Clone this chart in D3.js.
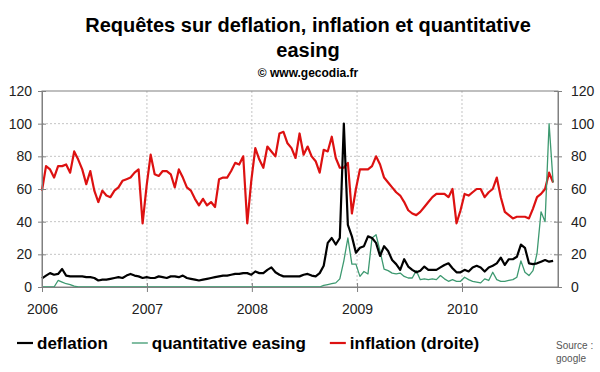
<!DOCTYPE html>
<html>
<head>
<meta charset="utf-8">
<script src="https://cdn.jsdelivr.net/npm/d3@7"></script>
<style>
  body { margin: 0; background: #fff; }
  svg { font-family: "Liberation Sans", Arial, sans-serif; display: block; }
</style>
</head>
<body>
<script>
// series, one point every two weeks from 1 jan 2006
var startDate = new Date(2006, 0, 1);
var stepDays = 14;

var deflation = [5.3, 7, 8.5, 7.5, 8, 11, 7, 6.5, 6.5, 6.5, 6.5, 6, 6, 5.5, 4, 4.5, 4.5, 5, 5.5, 6,
  5.5, 7, 8, 7, 6.5, 5.5, 6, 5.5, 5.5, 6.5, 6, 5.5, 6.5, 6.5, 6, 7, 5.5, 5, 4.5, 4,
  4.5, 5, 5.5, 6, 6.5, 7, 7, 7.5, 8, 8, 8.5, 8.5, 7.5, 9.5, 8.5, 8.5, 10.5, 12, 9, 7.5,
  6.5, 6.5, 6.5, 6.5, 6.5, 7.5, 8, 7, 6.5, 8.5, 13, 27, 30, 26, 30, 100, 38, 31, 21, 24,
  25, 31, 30, 27, 19, 25, 22, 16.5, 14, 10.5, 17, 12.5, 10.5, 9, 10, 12.5, 10.5, 10.5, 10.5, 12,
  13.5, 14.5, 11.5, 9, 9, 10.5, 9.5, 12, 13, 12, 9.5, 12, 13, 14.5, 18, 13.5, 17, 17, 18.5, 26,
  24, 14.5, 14, 14.5, 15.5, 16.5, 15.5, 16];

var quantEasing = [0, 0, 0, 0, 4, 3, 2, 1.5, 0.5, 0, 0, 0, 0, 0, 0, 0, 0, 0, 0, 0,
  0, 0, 0, 0, 0, 0, 0, 0, 0, 0, 0, 0, 0, 0, 0, 0, 0, 0, 0, 0,
  0, 0, 0, 0, 0, 0, 0, 0, 0, 0, 0, 0, 0, 0, 0, 0, 0, 0, 0, 0,
  0, 0, 0, 0, 0, 0, 0, 0, 0, 0, 1, 1.5, 2, 2.5, 5, 16, 30, 14, 14, 6.5,
  9.5, 8, 30, 32, 22, 11, 10, 8.5, 8, 8.5, 6.5, 5.5, 5.5, 10, 4.5, 5, 4.5, 5, 4.5, 7,
  5, 3.5, 4.5, 3.5, 3.5, 6, 4.5, 3.5, 3, 2.5, 5, 4, 9, 4.5, 3.5, 3.5, 4, 4.5, 6, 16,
  9, 7, 10, 20.5, 46, 40, 100, 64];

var inflation = [59, 74, 72, 67, 74, 74, 75, 70, 83, 78, 72, 63, 71, 59, 52, 59, 56, 55, 59, 61,
  65, 66, 67, 70, 72, 39, 62, 81, 69, 68, 71, 71, 69, 61, 72, 67, 61, 59, 54, 50,
  54, 50, 52, 49, 66, 67, 67, 71, 76, 75, 80, 39, 65, 85, 78, 73, 86, 83, 80, 94,
  95, 88, 85, 79, 94, 81, 86, 80, 77, 70, 84, 83, 92, 79, 73, 73, 76, 45, 60, 72,
  72, 72, 74, 80, 75, 67, 64, 61, 58, 56, 52, 47, 45, 44, 46, 49, 52, 55, 57, 57,
  57, 55, 60, 39, 47, 57, 56, 58, 60, 60, 55, 58, 60, 67, 55, 46, 44, 42, 43, 43,
  43, 42, 48, 55, 57, 60, 70, 64];

var yearTicks = [2006, 2007, 2008, 2009, 2010];
var valueTicks = [0, 20, 40, 60, 80, 100, 120];

var legendItems = [
  {name: "deflation", color: "#000000", width: 2.2},
  {name: "quantitative easing", color: "#3d9970", width: 1.3},
  {name: "inflation (droite)", color: "#dd1111", width: 2.2}
];

var w = 600;
var h = 372;
var plotLeft = 42, plotRight = 558, plotTop = 91, plotBottom = 287;

var svg = d3.select("body").append("svg")
  .attr("width", w)
  .attr("height", h);

// scales: both axes share 0-120
var xScale = d3.scaleTime()
  .domain([new Date(2006, 0, 1), new Date(2010, 11, 1)])
  .range([plotLeft, plotRight]);

var yLeft = d3.scaleLinear().domain([0, 120]).range([plotBottom, plotTop]);
var yRight = d3.scaleLinear().domain([0, 120]).range([plotBottom, plotTop]);

var dateOf = function(i) { return d3.timeDay.offset(startDate, i * stepDays); };

// title
svg.append("text")
  .attr("x", 308).attr("y", 32)
  .attr("text-anchor", "middle")
  .style("font-size", "20px").style("font-weight", "bold")
  .text("Requêtes sur deflation, inflation et quantitative");
svg.append("text")
  .attr("x", 308).attr("y", 57)
  .attr("text-anchor", "middle")
  .style("font-size", "20px").style("font-weight", "bold")
  .text("easing");
svg.append("text")
  .attr("x", 308).attr("y", 77)
  .attr("text-anchor", "middle")
  .style("font-size", "12px").style("font-weight", "bold")
  .text("© www.gecodia.fr");

// dashed grid
svg.append("g").selectAll("line")
  .data(valueTicks.filter(function(d) { return d > 0 && d < 120; }))
  .enter().append("line")
  .attr("x1", plotLeft).attr("x2", plotRight)
  .attr("y1", function(d) { return yLeft(d); })
  .attr("y2", function(d) { return yLeft(d); })
  .attr("stroke", "#c4c4c4").attr("stroke-dasharray", "2,2");

svg.append("g").selectAll("line")
  .data(yearTicks.slice(1))
  .enter().append("line")
  .attr("x1", function(d) { return xScale(new Date(d, 0, 1)); })
  .attr("x2", function(d) { return xScale(new Date(d, 0, 1)); })
  .attr("y1", plotTop).attr("y2", plotBottom)
  .attr("stroke", "#c4c4c4").attr("stroke-dasharray", "2,2");

// plot frame
svg.append("rect")
  .attr("x", plotLeft).attr("y", plotTop)
  .attr("width", plotRight - plotLeft).attr("height", plotBottom - plotTop)
  .attr("fill", "none").attr("stroke", "#808080");

// lines
var lineLeft = d3.line()
  .x(function(d, i) { return xScale(dateOf(i)); })
  .y(function(d) { return yLeft(d); });
var lineRight = d3.line()
  .x(function(d, i) { return xScale(dateOf(i)); })
  .y(function(d) { return yRight(d); });

svg.append("path").datum(inflation)
  .attr("d", lineRight).attr("fill", "none")
  .attr("stroke", legendItems[2].color).attr("stroke-width", legendItems[2].width)
  .attr("stroke-linejoin", "round");
svg.append("path").datum(quantEasing)
  .attr("d", lineLeft).attr("fill", "none")
  .attr("stroke", legendItems[1].color).attr("stroke-width", legendItems[1].width)
  .attr("stroke-linejoin", "round");
svg.append("path").datum(deflation)
  .attr("d", lineLeft).attr("fill", "none")
  .attr("stroke", legendItems[0].color).attr("stroke-width", legendItems[0].width)
  .attr("stroke-linejoin", "round");

// axes
function styleAxis(g) {
  g.select(".domain").attr("stroke", "#808080");
  g.selectAll(".tick line").attr("stroke", "#808080");
  g.selectAll(".tick text").attr("fill", "#222").style("font-size", "14px")
    .style("font-family", "'Liberation Sans', Arial, sans-serif");
}

var xAxis = svg.append("g")
  .attr("transform", "translate(0," + plotBottom + ")")
  .call(d3.axisBottom(xScale)
    .tickValues(yearTicks.map(function(d) { return new Date(d, 0, 1); }))
    .tickFormat(d3.timeFormat("%Y"))
    .tickSizeInner(5).tickSizeOuter(0))
  .call(styleAxis);
xAxis.selectAll(".tick line").attr("y1", -4);
xAxis.selectAll(".tick text").attr("y", 22).attr("dy", "0.35em");

var leftAxis = svg.append("g")
  .attr("transform", "translate(" + plotLeft + ",0)")
  .call(d3.axisLeft(yLeft).tickValues(valueTicks).tickSizeInner(4).tickSizeOuter(0))
  .call(styleAxis);
leftAxis.selectAll(".tick line").attr("x2", 4).attr("x1", -4);
leftAxis.selectAll(".tick text").attr("x", -10);

var rightAxis = svg.append("g")
  .attr("transform", "translate(" + plotRight + ",0)")
  .call(d3.axisRight(yRight).tickValues(valueTicks).tickSizeInner(4).tickSizeOuter(0))
  .call(styleAxis);
rightAxis.selectAll(".tick line").attr("x1", -4).attr("x2", 4);
rightAxis.selectAll(".tick text").attr("x", 13);

// legend
var lx = 17;
legendItems.forEach(function(item) {
  svg.append("line")
    .attr("x1", lx).attr("x2", lx + 16)
    .attr("y1", 343).attr("y2", 343)
    .attr("stroke", item.color).attr("stroke-width", item.width);
  var t = svg.append("text")
    .attr("x", lx + 20).attr("y", 349)
    .style("font-size", "17px").style("font-weight", "bold")
    .text(item.name);
  lx = lx + 20 + t.node().getComputedTextLength() + 24;
});

// source note
svg.append("text").attr("x", 556).attr("y", 349)
  .style("font-size", "10px").attr("fill", "#555").text("Source :");
svg.append("text").attr("x", 556).attr("y", 362)
  .style("font-size", "10px").attr("fill", "#555").text("google");
</script>
</body>
</html>
